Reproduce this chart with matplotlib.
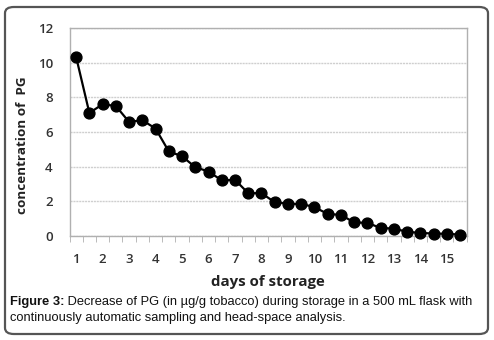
import matplotlib
matplotlib.use("Agg")
import matplotlib.pyplot as plt
from matplotlib.patches import FancyBboxPatch

days = [1, 1.5, 2, 2.5, 3, 3.5, 4, 4.5, 5, 5.5, 6, 6.5, 7, 7.5, 8, 8.5,
        9, 9.5, 10, 10.5, 11, 11.5, 12, 12.5, 13, 13.5, 14, 14.5, 15, 15.5]
pg = [10.33, 7.1, 7.6, 7.5, 6.58, 6.68, 6.2, 4.88, 4.6, 3.97, 3.72, 3.21, 3.24,
      2.47, 2.47, 1.95, 1.86, 1.85, 1.67, 1.27, 1.22, 0.78, 0.76, 0.46, 0.43,
      0.24, 0.18, 0.14, 0.13, 0.08]
day_ticks = list(range(1, 16))
y_ticks = [0, 2, 4, 6, 8, 10, 12]

W, H = 494, 340
fig = plt.figure(figsize=(W / 100, H / 100), dpi=100)

# outer rounded frame
frame = FancyBboxPatch((5 / W, 6 / H), 483 / W, 327 / H,
                       boxstyle="round,pad=0,rounding_size=0.018",
                       transform=fig.transFigure, facecolor="white",
                       edgecolor="#555555", linewidth=1.6, zorder=-5)
fig.patches.append(frame)

ax = fig.add_axes([69.5 / W, 1 - 236 / H, (466.7 - 69.5) / W, (236 - 28) / H])
ax.set_zorder(2)
ax.set_facecolor("none")
ax.plot(days, pg, color="black", linewidth=1.6, marker="o", markersize=7.8,
        markerfacecolor="black", markeredgecolor="black", clip_on=False, zorder=3)

ax.set_xlim(0.75, 15.75)
ax.set_ylim(0, 12)
ax.set_yticks(y_ticks)
ax.set_xticks(day_ticks)
ax.set_xticks([0.75 + 0.5 * k for k in range(31)], minor=True)
ax.grid(axis="y", color="#cfcfcf", linewidth=1.0, linestyle=(0, (1.5, 0.6)))
ax.set_axisbelow(True)

for s in ax.spines.values():
    s.set_color("#b0b0b0")
    s.set_linewidth(1.0)

ax.tick_params(axis="x", which="major", length=0, pad=12, labelcolor="#333333")
ax.tick_params(axis="x", which="minor", length=4, color="#b0b0b0", direction="out")
ax.tick_params(axis="y", which="major", length=0, pad=12, labelcolor="#333333")
for lab in ax.get_xticklabels() + ax.get_yticklabels():
    lab.set_fontfamily("Open Sans")
    lab.set_fontsize(9.5)
    lab.set_fontweight("semibold")

ax.set_xlabel("days of storage", fontfamily="Open Sans", fontsize=10.8,
              fontweight="bold", color="#222222", labelpad=7)
ax.set_ylabel("concentration of  PG", fontfamily="Open Sans", fontsize=9.7,
              fontweight="bold", color="#222222", labelpad=10)
ax.yaxis.set_label_coords(-(69.5 - 29) / (466.7 - 69.5), (236 - 145) / (236 - 28))

cap_fs = 9.3
t1 = fig.text(10 / W, 1 - 305 / H, "Figure 3:", fontfamily="Liberation Sans",
              fontsize=cap_fs, fontweight="bold", color="#111111",
              va="baseline", ha="left")
fig.add_artist(plt.Annotation(
    " Decrease of PG (in µg/g tobacco) during storage in a 500 mL flask with",
    xy=(1, 0), xycoords=t1, va="bottom", ha="left",
    fontfamily="Liberation Sans", fontsize=cap_fs, color="#111111"))
fig.text(10 / W, 1 - 321 / H,
         "continuously automatic sampling and head-space analysis.",
         fontfamily="Liberation Sans", fontsize=cap_fs, color="#111111",
         va="baseline", ha="left")

fig.savefig("out.png", dpi=100)
